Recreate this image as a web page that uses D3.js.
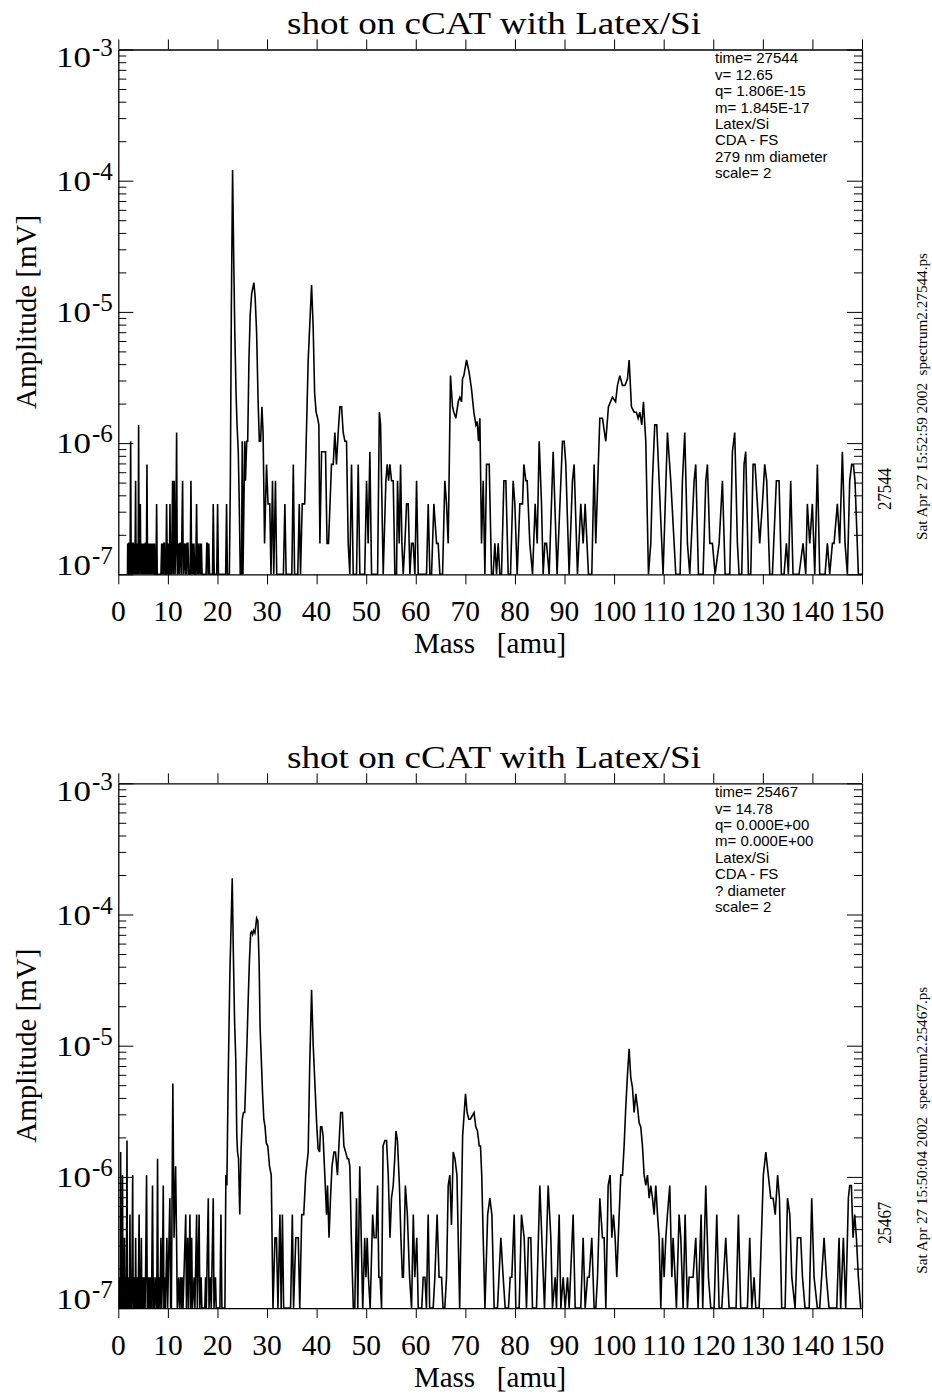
<!DOCTYPE html>
<html>
<head>
<meta charset="utf-8">
<title>shot on cCAT with Latex/Si</title>
<script src="https://cdnjs.cloudflare.com/ajax/libs/d3/7.8.5/d3.min.js"></script>
<style>
    body { margin: 0; background: #fff; }
    svg { display: block; }
    .serif { font-family: "Liberation Serif", "DejaVu Serif", serif; fill: #000; }
    .sans { font-family: "Liberation Sans", Arial, sans-serif; fill: #000; }
    .axis path, .axis line { stroke: #000; }
</style>
</head>
<body>
<div id="chart"></div>
<script>
// amplitude of one ADC count in mV (the spectra are quantised in these steps)
const adcStep = 1.72e-7;

const massTicks = [0, 10, 20, 30, 40, 50, 60, 70, 80, 90, 100, 110, 120, 130, 140, 150];
const decades = [-3, -4, -5, -6, -7];

// [mass (amu), amplitude in ADC counts]
const shot27544 = [
    [1.85,0],[1.9,1],[2.0,0],[2.1,1],[2.2,1],[2.3,0],[2.4,1],[2.49,6],[2.6,0],[2.7,1],[2.8,0],[2.9,1],[3.0,1],[3.1,0],
    [3.2,1],[3.3,0],[3.4,1],[3.49,3],[3.6,0],[3.7,1],[3.8,0],[3.9,1],[4.0,0],[4.1,8],[4.2,0],[4.3,1],[4.44,2],[4.55,0],
    [4.65,1],[4.75,0],[4.85,1],[4.95,0],[5.05,1],[5.15,0],[5.25,1],[5.35,0],[5.45,1],[5.55,1],[5.65,0],[5.78,4],[5.9,0],
    [6.0,1],[6.1,0],[6.2,1],[6.3,0],[6.4,1],[6.5,0],[6.6,1],[6.7,0],[6.8,1],[6.9,0],[7.05,1],[7.15,0],[7.3,1],[7.4,0],
    [7.6,0],[7.73,2],[7.85,0],[8.6,0],[8.75,1],[8.85,0],[8.95,1],[9.05,0],[9.15,1],[9.3,1],[9.4,0],[9.6,0],[9.74,2],
    [9.9,0],[10.05,1],[10.15,0],[10.3,0],[10.42,2],[10.55,0],[10.65,1],[10.75,0],[10.95,3],[11.1,0],[11.29,3],[11.45,0],
    [11.6,1],[11.76,7],[11.9,0],[12.0,1],[12.1,0],[12.2,1],[12.3,0],[12.43,1],[12.55,1],[12.7,0],[12.97,3],[13.1,0],
    [13.4,1],[13.5,0],[13.64,1],[13.8,0],[13.9,1],[14.05,1],[14.2,0],[14.5,0],[14.65,3],[14.8,0],[14.95,1],[15.1,0],
    [15.25,1],[15.4,0],[15.6,0],[15.79,2],[15.95,0],[16.1,1],[16.25,0],[16.47,1],[16.6,0],[16.75,1],[16.9,0],[17.7,0],
    [17.85,1],[17.95,1],[18.1,0],[18.25,1],[18.4,0],[19.0,0],[19.15,2],[19.35,0],[19.85,0],[20.03,2],[20.2,0],[21.65,0],
    [21.84,2],[22.0,0],[22.4,0],[22.6,3],[22.8,60],[23.05,700],[23.25,180],[23.5,40],[23.75,14],[23.95,8],[24.2,5],
    [24.4,2],[24.6,0],[24.85,0],[25.0,6],[25.15,0],[25.5,6],[25.65,3],[25.9,6],[26.1,6],[26.35,25],[26.6,55],[26.9,80],
    [27.35,97],[27.6,75],[27.9,40],[28.2,12],[28.45,6],[28.7,6],[28.97,11],[29.2,7],[29.5,1],[29.9,4],[30.2,2],[30.55,2],
    [30.8,0],[31.1,3],[31.35,0],[31.7,3],[31.95,0],[33.3,0],[33.6,2],[33.85,0],[35.0,0],[35.3,4],[35.55,0],[36.2,0],
    [36.5,2],[36.75,0],[37.1,2],[37.6,2],[37.9,6],[38.3,25],[38.98,93],[39.3,45],[39.6,14],[39.9,10],[40.2,9],[40.45,8],
    [40.66,1],[41.0,5],[41.3,5],[41.8,5],[42.1,1],[42.4,1],[42.7,2],[43.0,4],[43.35,4],[43.68,7],[44.0,4],[44.35,7],
    [44.7,11],[45.03,11],[45.36,7],[45.7,6],[46.03,6],[46.37,1],[46.7,0],[47.04,4],[47.38,0],[48.05,0],[48.39,4],[48.72,0],
    [49.7,0],[50.07,3],[50.4,1],[50.74,5],[51.08,0],[52.3,0],[52.65,10],[52.9,8],[53.43,0],[53.97,3],[54.24,4],[54.51,3],
    [54.78,4],[55.11,3],[55.45,3],[55.79,0],[56.12,0],[56.32,3],[56.66,1],[56.93,4],[57.2,1],[57.47,0],[57.8,1],[58.14,2],
    [58.48,2],[58.81,0],[59.15,1],[59.48,1],[59.82,0],[60.16,3],[60.49,0],[62.17,0],[62.51,2],[62.84,0],[63.18,0],[63.65,2],
    [64.19,1],[64.52,1],[64.86,0],[65.4,0],[65.86,3],[66.2,2],[66.54,1],[67.0,19],[67.41,11],[67.68,10],[68.08,9],[68.56,12],
    [68.89,13],[69.23,12],[69.43,18],[69.7,19],[70.24,25],[70.77,20],[71.24,15],[71.71,10],[72.12,8],[72.39,8.5],[72.66,6],
    [72.93,9],[73.26,1],[73.6,3],[73.94,0],[74.27,4],[74.81,4],[75.28,0],[75.61,0],[75.95,1],[76.29,0],[76.62,1],[76.96,0],
    [77.29,0],[77.77,3],[78.17,3],[78.64,0],[79.11,0],[79.64,3],[79.98,2],[80.45,0],[80.99,2],[81.53,2],[81.8,4],[82.2,3],
    [82.47,3],[83.0,1],[83.55,0],[84.08,2],[84.49,1],[84.89,6],[85.36,2],[85.69,0],[86.03,1],[86.37,1],[86.9,0],[87.71,5],
    [88.5,0],[89.59,6],[89.93,6],[90.26,4],[90.93,0],[91.6,3],[91.94,4],[92.61,0],[93.28,2],[93.76,1],[94.16,2],[94.83,0],
    [95.5,0],[95.97,4],[96.3,1],[97.12,9],[97.65,9],[98.32,6],[98.86,11],[99.67,13],[100.3,12],[100.68,16],[101.15,19],
    [101.68,16],[102.2,16],[102.7,18],[103.03,25],[103.5,11],[104.04,10],[104.5,10],[104.85,9],[105.18,10],[105.58,8],
    [105.92,12],[106.39,6],[106.93,0],[107.4,1],[107.73,3],[108.2,8],[108.6,8],[109.08,3],[109.88,0],[110.76,7],[111.43,3],
    [112.44,0],[113.31,0],[113.78,3],[114.25,7],[114.79,1],[115.26,0],[116.14,3],[116.47,4],[117.01,0],[117.95,0],[118.49,3],
    [118.82,4],[119.3,1],[119.83,1],[120.37,0],[121.18,1],[121.85,3],[122.39,0],[123.33,0],[123.86,5],[124.33,7],[124.87,1],
    [125.21,0],[125.74,0],[126.21,4],[126.55,5],[127.09,0],[127.56,0],[128.03,4],[128.43,4],[128.9,2],[129.37,1],[129.91,2],
    [130.38,4],[130.78,3],[131.39,0],[131.93,0],[132.73,3],[133.27,3],[133.74,0],[134.28,0],[134.75,1],[135.15,0],[135.62,3],
    [136.09,0],[137.3,0],[138.11,1],[138.65,0],[138.98,2],[139.46,1],[139.99,2],[140.47,0],[141.0,4],[141.47,0],[142.55,0],
    [143.02,1],[143.49,0],[144.03,1],[144.36,1],[145.03,2],[145.5,1],[146.04,5],[146.58,1],[147.05,0],[147.52,3],[147.92,4],
    [148.26,4],[148.59,3],[149.27,0],[150,0]
];

const shot25467 = [
    [0.2,0],[0.3,1],[0.4,0],[0.47,9],[0.55,0],[0.65,1],[0.75,0],[0.85,6],[0.95,0],[1.05,1],[1.15,0],[1.25,2],[1.35,0],
    [1.45,1],[1.55,0],[1.65,1],[1.75,11],[1.85,0],[1.95,1],[2.05,0],[2.15,1],[2.25,0],[2.35,3],[2.45,0],[2.55,1],[2.65,0],
    [2.75,1],[2.9,6],[3.0,0],[3.1,1],[3.2,0],[3.3,1],[3.4,0],[3.5,2],[3.6,0],[3.7,1],[3.8,0],[3.9,1],[4.0,0],[4.2,3],
    [4.3,0],[4.4,1],[4.5,0],[4.65,2],[4.75,0],[4.85,1],[4.95,0],[5.05,1],[5.15,0],[5.3,1],[5.4,0],[5.5,1],[5.7,6],[5.85,0],
    [6.0,1],[6.1,0],[6.25,1],[6.4,0],[6.55,1],[6.7,0],[6.9,5],[7.05,0],[7.2,1],[7.35,0],[7.6,1],[7.75,0],[7.92,8],[8.05,0],
    [8.25,1],[8.4,0],[8.6,2],[8.75,0],[8.9,1],[9.07,5],[9.2,0],[9.4,1],[9.5,0],[9.8,2],[9.95,0],[10.4,4],[10.55,0],[10.7,0],
    [11.0,30],[11.25,2],[11.56,7],[11.75,2],[11.9,0],[12.2,1],[12.35,0],[12.6,1],[12.75,0],[12.9,1],[13.05,0],[13.6,3],
    [13.75,0],[14.0,2],[14.15,0],[14.45,3],[14.6,0],[14.8,2],[14.95,0],[15.3,1],[15.45,0],[15.8,3],[15.95,0],[16.3,3],
    [16.45,0],[16.7,1],[16.85,0],[17.45,0],[17.6,1],[17.75,0],[18.15,4],[18.3,0],[18.6,1],[18.75,0],[19.15,4],[19.3,0],
    [19.6,1],[19.75,0],[20.5,0],[20.7,3],[20.9,0],[21.5,0],[21.7,6],[21.9,5],[22.15,30],[22.5,200],[22.98,1100],[23.2,300],
    [23.45,90],[23.7,45],[23.9,12],[24.05,9],[24.25,8],[24.5,3],[24.75,9],[25.0,16],[25.25,18],[25.5,18],[25.75,35],
    [25.95,60],[26.2,130],[26.45,260],[26.7,420],[26.9,430],[27.1,410],[27.3,440],[27.55,420],[27.75,480],[27.9,545],
    [28.15,520],[28.4,250],[28.6,80],[28.85,45],[29.1,25],[29.35,16],[29.6,14],[29.85,10.5],[30.15,10],[30.5,7],[30.85,6],
    [31.2,0],[31.6,2],[31.9,2],[32.2,0],[32.6,3],[32.85,0],[33.1,3],[33.35,0],[34.75,0],[35.1,3],[35.35,0],[35.8,2],
    [36.3,2],[36.6,0],[37.0,3],[37.4,3],[37.8,6],[38.3,9],[38.6,40],[38.98,155],[39.3,60],[39.65,30],[40.0,15],[40.3,9.5],
    [40.6,9],[40.8,14],[41.05,14],[41.3,12],[41.65,6],[42.0,3],[42.2,5],[42.5,2],[42.8,4],[43.1,7],[43.5,9],[43.8,9],
    [44.2,6],[44.6,12],[44.85,18],[45.2,18],[45.5,10],[45.85,9],[46.2,8],[46.45,8],[46.7,7],[47.0,2],[47.4,0],[47.7,0],
    [48.05,4],[48.3,0],[48.7,7],[49.0,2],[49.3,0],[49.7,2],[49.95,1],[50.2,2],[50.45,1],[50.8,0],[51.3,3],[51.6,2],[52.0,2],
    [52.3,5],[52.55,1],[52.8,1],[53.1,0],[53.4,10],[53.77,11],[54.1,11],[54.45,6],[54.8,2],[55.1,4],[55.45,5],[55.75,8],
    [56.0,13],[56.3,11],[56.7,5],[57.0,2],[57.3,1],[57.5,1],[57.9,5],[58.3,3],[58.75,1],[59.15,0],[59.5,3],[59.8,1],
    [60.2,2],[60.5,0],[61.2,0],[61.5,1],[61.85,1],[62.15,0],[62.5,3],[62.8,0],[63.5,0],[63.85,1],[64.3,3],[64.7,1],[65.2,1],
    [65.5,0],[65.85,0],[66.2,1],[66.54,5],[66.87,6],[67.2,2.5],[67.55,9],[67.9,8],[68.3,6],[68.85,0],[69.45,12],[70.03,25],
    [70.35,18],[70.7,16],[71.0,16],[71.4,17],[71.75,18],[72.1,14],[72.45,13],[72.8,10],[73.05,10],[73.3,6],[73.6,2],
    [73.95,0],[74.5,3],[74.94,4],[75.35,3],[75.81,0],[76.48,0],[77.16,2],[77.63,1],[78.03,0],[78.7,0],[79.04,1],[79.37,1],
    [79.85,3],[80.18,0],[80.85,0],[81.32,3],[81.86,2],[82.33,0],[82.73,2],[83.2,2],[83.54,0],[84.35,0],[85.02,5],[85.42,2],
    [85.96,0],[86.7,5],[87.24,2],[87.57,0],[88.11,1],[88.38,0],[88.92,3],[89.26,0],[89.73,1],[90.13,0],[90.6,1],[90.94,0],
    [91.74,3],[92.15,0],[93.28,0],[93.76,2],[94.16,0],[94.63,1],[94.97,1],[95.5,2],[95.97,0],[96.31,0],[96.65,1],[97.12,4],
    [97.65,2],[97.99,2],[98.33,0],[98.8,5],[99.2,6],[99.54,2],[99.87,3],[100.21,2],[100.54,1],[101.02,3],[101.35,6],
    [101.69,6],[102.02,10],[102.36,20],[102.7,35],[103.03,55],[103.37,33],[103.7,28],[104.04,18],[104.38,25],[104.71,20],
    [105.05,15],[105.38,14],[105.72,10],[106.06,6],[106.39,5],[106.73,6],[107.07,4],[107.4,5],[107.74,4],[108.07,3],
    [108.41,5],[108.75,3],[109.08,2],[109.42,0],[109.76,2],[110.09,1],[110.43,2],[110.76,3],[111.23,5],[111.64,1],[111.9,2],
    [112.3,1],[112.57,0],[113.11,3],[113.45,2],[113.92,0],[114.32,3],[114.79,0],[115.13,1],[115.93,1],[116.47,2],[116.94,0],
    [117.55,3],[117.88,0],[118.22,2],[118.49,5],[119.03,1],[119.5,0],[120.17,0],[120.71,3],[121.18,0],[121.72,0],[122.52,2],
    [123.19,0],[124.6,0],[125.07,3],[125.54,0],[126.89,0],[127.36,2],[127.77,0],[128.24,1],[128.58,0],[129.25,0],[130.1,6],
    [130.6,9],[131.1,6],[131.6,4],[132.07,4],[132.5,3],[132.98,6],[133.35,4],[133.81,0],[134.49,0],[134.97,4],[135.44,3],
    [135.84,1],[136.5,0],[136.97,2],[137.64,2],[138.0,1],[138.51,0],[139.35,0],[139.86,4],[140.33,1],[141.0,0],[141.47,0],
    [142.35,2],[142.82,1],[143.35,0],[144.9,0],[145.37,2],[145.7,0],[146.24,2],[146.71,0],[147.25,4],[147.52,5],[147.86,5],
    [148.2,2],[148.53,3],[148.87,2],[149.27,1],[149.74,0]
];

const info27544 = ["time= 27544", "v= 12.65", "q= 1.806E-15", "m= 1.845E-17", "Latex/Si", "CDA - FS", "279 nm diameter", "scale= 2"];
const info25467 = ["time= 25467", "v= 14.78", "q= 0.000E+00", "m= 0.000E+00", "Latex/Si", "CDA - FS", "? diameter", "scale= 2"];

const panels = [
    { top: 49.5, data: shot27544, info: info27544, shot: "27544", stamp: "Sat Apr 27 15:52:59 2002  spectrum2.27544.ps" },
    { top: 783.3, data: shot25467, info: info25467, shot: "25467", stamp: "Sat Apr 27 15:50:04 2002  spectrum2.25467.ps" }
];

const width = 932, height = 1394;
const plotLeft = 118.3, plotRight = 862, plotHeight = 524.8;

const svg = d3.select("#chart").append("svg")
    .attr("width", width)
    .attr("height", height);
svg.append("rect").attr("width", width).attr("height", height).attr("fill", "#fff");

const x = d3.scaleLinear().domain([0, 150]).range([plotLeft, plotRight]);

// minor ticks 2..9 inside every decade
const minorTicks = [];
decades.slice(0, -1).forEach(e => {
    for (let k = 2; k <= 9; k++) minorTicks.push(k * Math.pow(10, e - 1));
});
const majorTicks = decades.map(e => Math.pow(10, e));

panels.forEach((p, pi) => {
    const top = p.top;
    const bottom = top + plotHeight;
    const y = d3.scaleLog().domain([1e-7, 1e-3]).range([bottom, top]);
    const g = svg.append("g");

    // clip for the trace
    const clipId = "clip" + pi;
    svg.append("clipPath").attr("id", clipId)
        .append("rect")
        .attr("x", plotLeft).attr("y", top)
        .attr("width", plotRight - plotLeft).attr("height", plotHeight + 1);

    const line = d3.line()
        .x(d => x(d[0]))
        .y(d => y(Math.max(d[1] * adcStep, 1e-7)));

    g.append("path")
        .datum(p.data)
        .attr("clip-path", `url(#${clipId})`)
        .attr("fill", "none")
        .attr("stroke", "#000")
        .attr("stroke-width", 1.6)
        .attr("d", line);

    // x axes, ticks pointing outward
    g.append("g").attr("class", "axis")
        .attr("transform", `translate(0,${bottom})`)
        .call(d3.axisBottom(x).tickValues(massTicks).tickSizeInner(10).tickSizeOuter(0).tickFormat(""));
    g.append("g").attr("class", "axis")
        .attr("transform", `translate(0,${top})`)
        .call(d3.axisTop(x).tickValues(massTicks).tickSizeInner(10).tickSizeOuter(0).tickFormat(""));

    // y axes, ticks pointing inward
    g.append("g").attr("class", "axis")
        .attr("transform", `translate(${plotLeft},0)`)
        .call(d3.axisLeft(y).tickValues(majorTicks).tickSizeInner(-15).tickSizeOuter(0).tickFormat(""));
    g.append("g").attr("class", "axis")
        .attr("transform", `translate(${plotLeft},0)`)
        .call(d3.axisLeft(y).tickValues(minorTicks).tickSizeInner(-8).tickSizeOuter(0).tickFormat(""))
        .call(a => a.select(".domain").remove());
    g.append("g").attr("class", "axis")
        .attr("transform", `translate(${plotRight},0)`)
        .call(d3.axisRight(y).tickValues(majorTicks).tickSizeInner(-15).tickSizeOuter(0).tickFormat(""));
    g.append("g").attr("class", "axis")
        .attr("transform", `translate(${plotRight},0)`)
        .call(d3.axisRight(y).tickValues(minorTicks).tickSizeInner(-8).tickSizeOuter(0).tickFormat(""))
        .call(a => a.select(".domain").remove());

    g.selectAll(".axis .domain").attr("stroke-width", 1.3);
    g.selectAll(".axis .tick line").attr("stroke-width", 1);

    // x tick labels
    g.selectAll(".xlab").data(massTicks).join("text")
        .attr("class", "serif")
        .attr("x", d => x(d))
        .attr("y", bottom + 46.7)
        .attr("text-anchor", "middle")
        .attr("font-size", 29.5)
        .text(d => d);

    // y tick labels 10^e
    decades.forEach((e, i) => {
        const off = i === 0 ? 17.5 : (i === decades.length - 1 ? 0.5 : 10.3);
        const base = y(Math.pow(10, e)) + off;
        g.append("text").attr("class", "serif")
            .attr("x", 56).attr("y", base)
            .attr("font-size", 29.5)
            .attr("textLength", 35).attr("lengthAdjust", "spacingAndGlyphs")
            .text("10");
        g.append("text").attr("class", "serif")
            .attr("x", 92).attr("y", base - 11)
            .attr("font-size", 25)
            .text("-" + Math.abs(e));
    });

    // title
    g.append("text").attr("class", "serif")
        .attr("x", 287).attr("y", top - 15.5)
        .attr("font-size", 32)
        .attr("textLength", 414).attr("lengthAdjust", "spacingAndGlyphs")
        .text("shot on cCAT with Latex/Si");

    // axis titles
    g.append("text").attr("class", "serif")
        .attr("x", 490).attr("y", bottom + 78.7)
        .attr("text-anchor", "middle")
        .attr("font-size", 29)
        .style("white-space", "pre")
        .text("Mass   [amu]");
    g.append("text").attr("class", "serif")
        .attr("transform", `translate(36,${top + plotHeight / 2}) rotate(-90)`)
        .attr("text-anchor", "middle")
        .attr("font-size", 29)
        .text("Amplitude [mV]");

    // info block
    g.selectAll(".info").data(p.info).join("text")
        .attr("class", "sans")
        .attr("x", 715)
        .attr("y", (d, i) => top + 13.8 + i * 16.4)
        .attr("font-size", 15)
        .text(d => d);

    // side annotations
    g.append("text").attr("class", "serif")
        .attr("transform", `translate(891,${bottom - 64.3}) rotate(-90)`)
        .attr("font-size", 18)
        .attr("textLength", 42).attr("lengthAdjust", "spacingAndGlyphs")
        .text(p.shot);
    g.append("text").attr("class", "serif")
        .attr("transform", `translate(927,${bottom - 34.3}) rotate(-90)`)
        .attr("font-size", 14)
        .attr("textLength", 287).attr("lengthAdjust", "spacingAndGlyphs")
        .style("white-space", "pre")
        .text(p.stamp);
});
</script>
</body>
</html>
